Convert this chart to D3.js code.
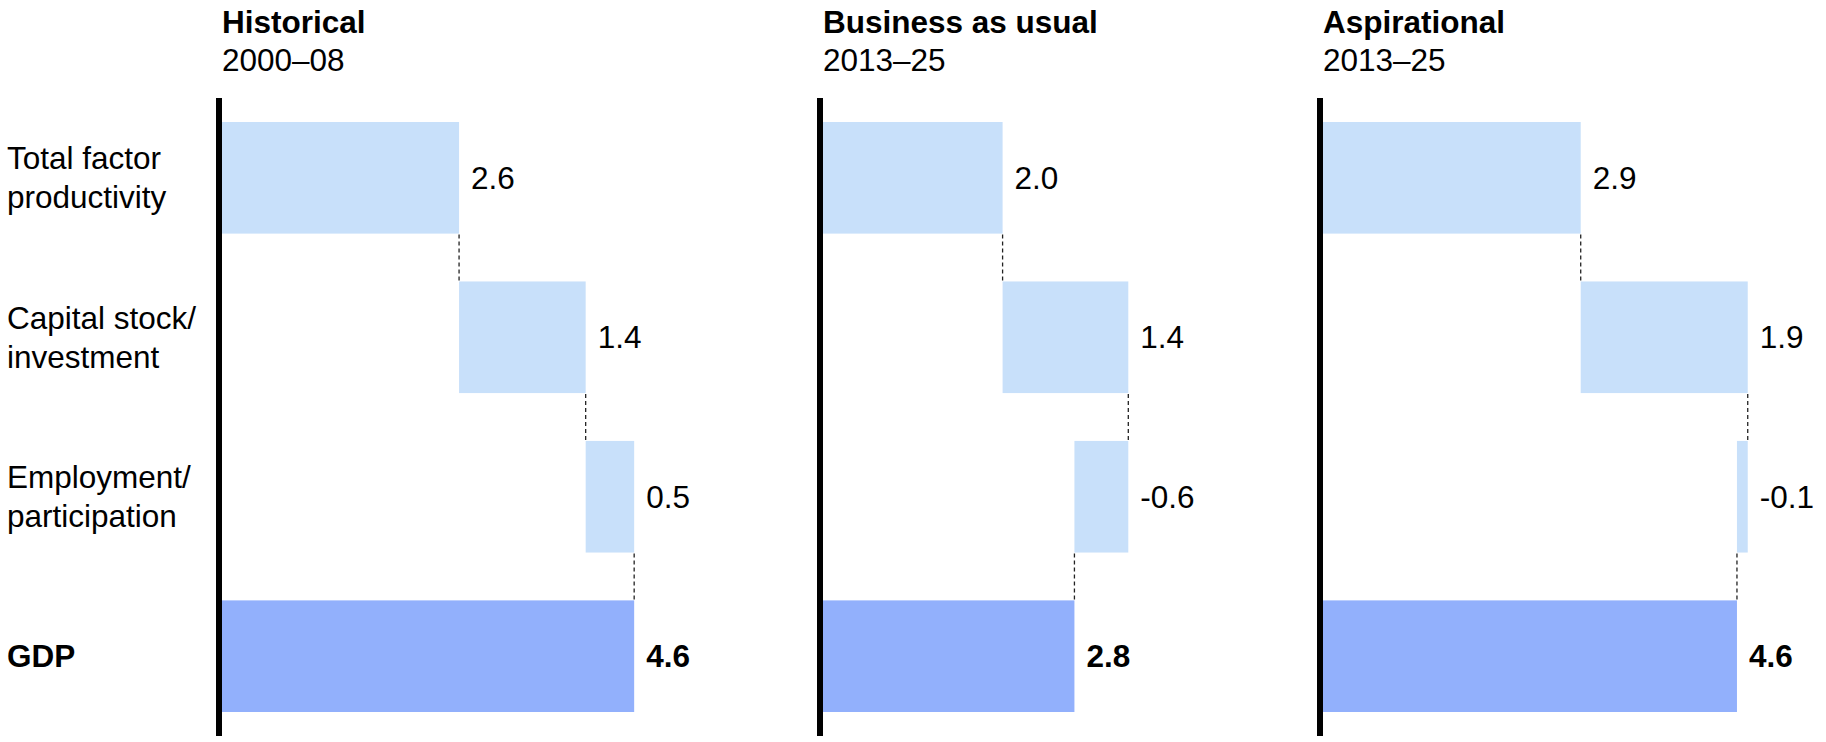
<!DOCTYPE html>
<html>
<head>
<meta charset="utf-8">
<script src="https://cdn.jsdelivr.net/npm/d3@7"></script>
<style>
  body { margin: 0; background: #fff; }
  text { font-family: "Liberation Sans", Arial, sans-serif; fill: #000; }
</style>
</head>
<body>
<div id="chart"></div>
<script>
const categories = ["Total factor productivity", "Capital stock/ investment", "Employment/ participation", "GDP"];
const categoryLines = [["Total factor", "productivity"], ["Capital stock/", "investment"], ["Employment/", "participation"], ["GDP"]];
const scenarios = ["Historical", "Business as usual", "Aspirational"];
const periods = ["2000–08", "2013–25", "2013–25"];
// contributions (labels are rounded to 1 decimal)
const tfp = [2.64, 2.0, 2.87];
const capital = [1.41, 1.4, 1.86];
const employment = [0.54, -0.6, -0.12];
const gdp = [4.59, 2.8, 4.61];

const width = 1826, height = 742;
const panelX = [219, 820, 1320]; // x of each panel's black axis line

const svg = d3.select("#chart")
  .append("svg")
  .attr("width", width)
  .attr("height", height);

let y = d3.scaleBand()
  .domain(categories)
  .range([122, 712])
  .paddingInner(0.3)
  .paddingOuter(0);

let x = d3.scaleLinear()
  .domain([0, 4.9])
  .range([0, 440]);

const fmt = d => d.toFixed(1);

// category labels on the left
const labels = svg.append("g")
  .selectAll("text")
  .data(categories)
  .join("text")
  .attr("x", 7)
  .attr("font-size", 31.5)
  .attr("font-weight", (d, i) => i === 3 ? "bold" : "normal");

labels.each(function(d, i) {
  const lines = categoryLines[i];
  const c = y(d) + y.bandwidth() / 2;
  d3.select(this).selectAll("tspan")
    .data(lines)
    .join("tspan")
    .attr("x", 7)
    .attr("y", (l, j) => c + 11 + (j - (lines.length - 1) / 2) * 39)
    .text(l => l);
});

scenarios.forEach((name, p) => {
  const x0 = panelX[p] + 3;
  const g = svg.append("g").attr("transform", `translate(${x0},0)`);

  // waterfall steps
  const vals = [tfp[p], capital[p], employment[p]];
  let run = 0;
  const steps = vals.map((v, i) => {
    const s = { cat: categories[i], start: run, end: run + v, value: v, total: false };
    run += v;
    return s;
  });
  steps.push({ cat: categories[3], start: 0, end: gdp[p], value: gdp[p], total: true });

  g.append("text")
    .attr("x", 0).attr("y", 33)
    .attr("font-size", 31.5).attr("font-weight", "bold")
    .text(name);
  g.append("text")
    .attr("x", 0).attr("y", 71)
    .attr("font-size", 31.5)
    .text(periods[p]);

  g.selectAll("rect")
    .data(steps)
    .join("rect")
    .attr("x", d => x(Math.min(d.start, d.end)))
    .attr("y", d => y(d.cat))
    .attr("width", d => Math.abs(x(d.end) - x(d.start)))
    .attr("height", y.bandwidth())
    .attr("fill", d => d.total ? "#92b0fc" : "#c8e0fa");

  // dashed connectors between consecutive bars
  g.selectAll("line.conn")
    .data(steps.slice(0, 3))
    .join("line")
    .attr("class", "conn")
    .attr("x1", d => x(d.end)).attr("x2", d => x(d.end))
    .attr("y1", d => y(d.cat) + y.bandwidth() + 1)
    .attr("y2", (d, i) => y(steps[i + 1].cat) - 1)
    .attr("stroke", "#222")
    .attr("stroke-width", 1.3)
    .attr("stroke-dasharray", "4,3");

  g.selectAll("text.val")
    .data(steps)
    .join("text")
    .attr("class", "val")
    .attr("x", d => x(Math.max(d.start, d.end)) + 12)
    .attr("y", d => y(d.cat) + y.bandwidth() / 2 + 11)
    .attr("font-size", 31.5)
    .attr("font-weight", d => d.total ? "bold" : "normal")
    .text(d => fmt(d.value));

  // black vertical axis line
  svg.append("line")
    .attr("x1", panelX[p]).attr("x2", panelX[p])
    .attr("y1", 98).attr("y2", 736)
    .attr("stroke", "#000")
    .attr("stroke-width", 6);
});
</script>
</body>
</html>
